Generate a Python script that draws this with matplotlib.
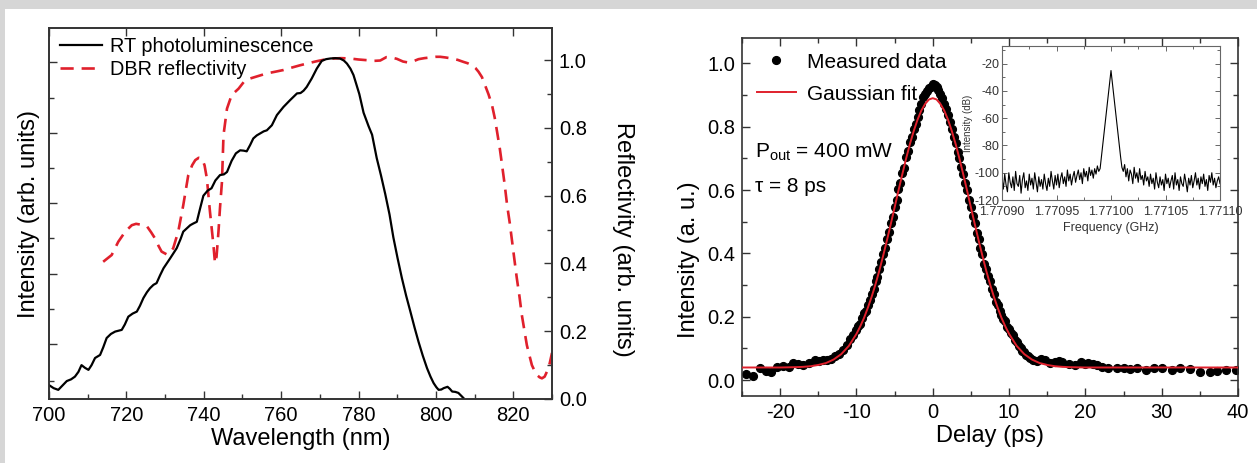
import matplotlib
matplotlib.use("Agg")
import matplotlib.pyplot as plt
import numpy as np
from matplotlib.patches import Rectangle
from matplotlib.ticker import MultipleLocator, FixedLocator, FixedFormatter

plt.rcParams['font.family'] = ['Liberation Sans', 'DejaVu Sans']
plt.rcParams['mathtext.fontset'] = 'custom'
plt.rcParams['mathtext.rm'] = 'Liberation Sans'
plt.rcParams['axes.unicode_minus'] = False

# ---- left panel: PL spectrum and DBR reflectivity (both normalised) ----
pl_wl = [700.0, 701.2, 702.4, 703.5, 704.6, 705.7, 706.7, 707.6, 708.4, 709.3,
         710.2, 711.0, 711.9, 713.2, 714.0, 714.9, 716.0, 717.1, 718.8, 719.6,
         720.5, 721.6, 722.7, 723.5, 724.4, 725.3, 726.1, 727.0, 727.8, 728.7,
         729.6, 731.3, 733.0, 734.0, 734.7, 736.5, 737.3, 738.2, 739.0, 739.9,
         741.0, 742.0, 743.0, 744.2, 745.2, 746.0, 747.2, 748.3, 749.4, 750.3,
         751.1, 752.0, 752.8, 753.7, 754.6, 755.5, 756.3, 757.6, 758.9, 760.6,
         762.3, 764.1, 765.0, 765.8, 766.6, 767.9, 769.2, 770.5, 771.6, 772.7,
         774.0, 775.2, 776.2, 777.0, 777.9, 778.7, 779.4, 780.2, 781.3, 782.6,
         783.5, 784.7, 785.8, 786.9, 788.0, 789.0, 790.1, 791.2, 792.3, 793.4,
         794.5, 795.5, 796.6, 797.7, 798.6, 799.4, 800.1, 800.7, 801.4, 802.0,
         803.0, 803.6, 804.2, 805.0, 805.8, 806.5, 807.1]
pl_int = [0.041, 0.032, 0.027, 0.040, 0.053, 0.058, 0.066, 0.080, 0.100, 0.092,
          0.086, 0.100, 0.121, 0.130, 0.152, 0.180, 0.192, 0.199, 0.204, 0.220,
          0.243, 0.252, 0.258, 0.275, 0.298, 0.315, 0.327, 0.337, 0.342, 0.365,
          0.386, 0.415, 0.445, 0.472, 0.494, 0.513, 0.518, 0.523, 0.560, 0.600,
          0.615, 0.622, 0.645, 0.661, 0.663, 0.670, 0.703, 0.725, 0.734, 0.733,
          0.731, 0.750, 0.769, 0.778, 0.784, 0.790, 0.793, 0.808, 0.838, 0.862,
          0.882, 0.902, 0.903, 0.910, 0.921, 0.946, 0.975, 0.998, 1.003, 1.005,
          1.006, 1.005, 0.999, 0.990, 0.975, 0.956, 0.930, 0.900, 0.845, 0.805,
          0.780, 0.711, 0.660, 0.605, 0.545, 0.477, 0.415, 0.357, 0.305, 0.258,
          0.210, 0.169, 0.128, 0.091, 0.066, 0.047, 0.035, 0.027, 0.028, 0.032,
          0.036, 0.030, 0.022, 0.021, 0.018, 0.010, 0.003]

dbr_wl = [714.0, 716.2, 717.9, 719.7, 721.4, 722.5, 723.5, 724.4, 725.3, 726.4,
          727.4, 728.3, 729.1, 730.4, 731.3, 732.1, 733.4, 734.7, 736.0, 737.0,
          737.8, 738.7, 739.5, 740.2, 740.8, 741.6, 742.5, 742.9, 743.3, 743.8,
          744.2, 744.7, 745.1, 746.0, 747.2, 749.0, 750.5, 752.0, 754.0, 756.3,
          758.5, 760.6, 762.7, 764.9, 767.0, 769.2, 771.3, 773.5, 775.6, 777.8,
          780.0, 782.2, 784.0, 785.6, 787.2, 788.5, 789.9, 791.5, 792.9, 794.2,
          795.5, 797.0, 798.5, 800.0, 801.1, 802.5, 804.1, 805.6, 807.1, 808.2,
          809.3, 810.2, 811.0, 811.9, 812.7, 813.6, 814.5, 815.2, 815.8, 816.5,
          817.1, 817.8, 818.4, 819.1, 819.7, 820.3, 820.9, 821.6, 822.2, 822.9,
          823.5, 824.2, 824.8, 825.5, 826.1, 826.8, 827.4, 828.1, 828.7, 829.4,
          830.0]
dbr_ref = [0.405, 0.425, 0.464, 0.494, 0.513, 0.517, 0.515, 0.513, 0.510, 0.492,
           0.474, 0.452, 0.435, 0.427, 0.432, 0.445, 0.494, 0.572, 0.661, 0.690,
           0.705, 0.712, 0.710, 0.690, 0.651, 0.553, 0.454, 0.401, 0.420, 0.494,
           0.565, 0.641, 0.779, 0.857, 0.897, 0.916, 0.938, 0.946, 0.953, 0.961,
           0.966, 0.971, 0.978, 0.985, 0.991, 0.997, 1.002, 1.005, 1.006, 1.005,
           1.002, 1.000, 0.998, 0.999, 1.009, 1.008, 1.004, 0.996, 0.993, 0.997,
           1.003, 1.006, 1.008, 1.010, 1.010, 1.008, 1.005, 1.001, 0.995, 0.991,
           0.985, 0.977, 0.966, 0.950, 0.926, 0.899, 0.867, 0.830, 0.789, 0.740,
           0.690, 0.630, 0.572, 0.518, 0.464, 0.410, 0.357, 0.302, 0.248, 0.200,
           0.159, 0.127, 0.100, 0.083, 0.071, 0.064, 0.061, 0.066, 0.081, 0.105,
           0.136]

# ---- right panel: autocorrelation trace ----
delay = [-24.5, -23.5, -22.7, -21.9, -21.2, -20.4, -19.6, -18.8, -18.3, -17.6,
         -17.0, -16.2, -15.4, -14.9, -14.4, -13.9, -13.4, -12.8, -12.3, -11.8,
         -11.3, -10.8, -10.4,
         -10.0, -9.75, -9.5, -9.25, -9.0, -8.75, -8.5, -8.25, -8.0, -7.75,
         -7.5, -7.25, -7.0, -6.75, -6.5, -6.25, -6.0, -5.75, -5.5, -5.25,
         -5.0, -4.75, -4.5, -4.25, -4.0, -3.75, -3.5, -3.25, -3.0, -2.75,
         -2.5, -2.25, -2.0, -1.75, -1.5, -1.25, -1.0, -0.75, -0.5, -0.25,
         0.0, 0.25, 0.5, 0.75, 1.0, 1.25, 1.5, 1.75, 2.0, 2.25,
         2.5, 2.75, 3.0, 3.25, 3.5, 3.75, 4.0, 4.25, 4.5, 4.75,
         5.0, 5.25, 5.5, 5.75, 6.0, 6.25, 6.5, 6.75, 7.0, 7.25,
         7.5, 7.75, 8.0, 8.25, 8.5, 8.75, 9.0, 9.25, 9.5, 9.75,
         10.0, 10.25, 10.5, 10.75, 11.0, 11.25, 11.5, 11.75, 12.0, 12.25, 12.5,
         12.8, 13.1, 13.6, 14.2, 14.7, 15.3, 16.0, 16.5, 17.0, 17.8,
         18.6, 19.4, 19.9, 20.4, 21.0, 21.5, 22.2, 23.0, 24.1, 25.1,
         25.9, 26.7, 28.0, 29.0, 30.0, 31.3, 32.4, 33.7, 35.0, 36.3,
         37.3, 38.4, 39.7]
measured = [0.021, 0.012, 0.037, 0.030, 0.026, 0.042, 0.045, 0.042, 0.053, 0.050,
            0.047, 0.055, 0.063, 0.060, 0.063, 0.065, 0.068, 0.075, 0.084, 0.095,
            0.112, 0.130, 0.142,
            0.158, 0.172, 0.178, 0.196, 0.212, 0.218, 0.238, 0.252, 0.272, 0.288,
            0.312, 0.326, 0.352, 0.372, 0.398, 0.418, 0.447, 0.468, 0.497, 0.516,
            0.548, 0.568, 0.603, 0.622, 0.654, 0.671, 0.703, 0.722, 0.752, 0.768,
            0.793, 0.808, 0.832, 0.852, 0.872, 0.893, 0.903, 0.912, 0.921, 0.926,
            0.935, 0.931, 0.924, 0.916, 0.904, 0.891, 0.873, 0.857, 0.836, 0.814,
            0.792, 0.768, 0.747, 0.719, 0.702, 0.673, 0.652, 0.622, 0.601, 0.568,
            0.547, 0.518, 0.497, 0.466, 0.447, 0.417, 0.398, 0.368, 0.352, 0.328,
            0.312, 0.288, 0.272, 0.248, 0.238, 0.218, 0.207, 0.192, 0.187, 0.168,
            0.162, 0.148, 0.141, 0.128, 0.122, 0.108, 0.103, 0.093, 0.090, 0.079, 0.076,
            0.070, 0.063, 0.060, 0.066, 0.063, 0.055, 0.058, 0.062, 0.058, 0.050,
            0.047, 0.058, 0.050, 0.053, 0.050, 0.047, 0.042, 0.037, 0.037, 0.037,
            0.035, 0.037, 0.032, 0.037, 0.037, 0.032, 0.037, 0.035, 0.026, 0.026,
            0.028, 0.032, 0.032]

fit_delay = [-25, -20, -18, -17, -16, -15, -14, -13, -12, -11,
             -10, -9.5, -9, -8.5, -8, -7.5, -7, -6.5, -6, -5.5,
             -5, -4.5, -4, -3.5, -3, -2.5, -2, -1.5, -1, -0.5,
             0, 0.5, 1, 1.5, 2, 2.5, 3, 3.5, 4, 4.5,
             5, 5.5, 6, 6.5, 7, 7.5, 8, 8.5, 9, 9.5,
             10, 11, 12, 13, 14, 15, 16, 17, 18, 20, 40]
fit_int = [0.040, 0.040, 0.041, 0.042, 0.044, 0.048, 0.054, 0.065, 0.082, 0.108,
           0.146, 0.170, 0.197, 0.229, 0.264, 0.303, 0.346, 0.393, 0.442, 0.493,
           0.545, 0.598, 0.649, 0.699, 0.745, 0.786, 0.822, 0.851, 0.872, 0.886,
           0.890, 0.886, 0.872, 0.851, 0.822, 0.786, 0.745, 0.699, 0.649, 0.598,
           0.545, 0.493, 0.442, 0.393, 0.346, 0.303, 0.264, 0.229, 0.197, 0.170,
           0.146, 0.108, 0.082, 0.065, 0.054, 0.048, 0.044, 0.042, 0.041, 0.040, 0.040]

# ---- inset: RF spectrum (dB), sampled evenly over the sweep ----
rf_left = [-104, -112, -101, -109, -114, -100, -107, -111, -103, -113,
           -99, -108, -110, -102, -115, -105, -100, -111, -106, -113,
           -101, -109, -104, -112, -100, -107, -114, -103, -110, -105,
           -112, -101, -108, -113, -104, -110, -99, -106, -112, -102,
           -109, -101, -111, -104, -100, -108, -103, -110, -98, -106,
           -101, -109, -103, -99, -107, -102, -98, -105, -100, -108,
           -97, -103, -99, -106, -96, -102, -98, -104, -97, -101,
           -95, -99]
rf_peak = [-97, -88, -79, -70, -61, -52, -43, -34, -25, -34,
           -43, -52, -61, -70, -79, -88, -96]
rf_right = [-99, -94, -103, -97, -106, -98, -101, -108, -96, -104,
            -100, -107, -97, -105, -102, -109, -99, -106, -103, -110,
            -101, -108, -104, -112, -100, -107, -111, -103, -109, -105,
            -113, -101, -108, -104, -111, -106, -102, -112, -100, -109,
            -105, -113, -103, -108, -110, -101, -107, -114, -104, -109,
            -102, -111, -106, -100, -109, -104, -112, -103, -108, -101,
            -110, -105, -113, -102, -107, -100, -109, -104, -111, -106,
            -103, -108]
rf_db = rf_left + rf_peak + rf_right
rf_freq = np.linspace(1.77090, 1.77110, len(rf_db))

red = '#e0202c'
spine_col = '#333333'

fig = plt.figure(figsize=(12.57, 4.63), dpi=100, facecolor='#d6d6d6')
fig.patches.append(Rectangle((5 / 1257, 0), 1, (463 - 9) / 463, transform=fig.transFigure,
                             facecolor='white', edgecolor='none', zorder=-5))


def style_axes(a, major_len=6, minor_len=3.5):
    for s in a.spines.values():
        s.set_linewidth(1.2)
        s.set_color(spine_col)
    a.tick_params(which='both', direction='in', width=1.0, color=spine_col)
    a.tick_params(which='major', length=major_len)
    a.tick_params(which='minor', length=minor_len)


# left panel
ax = fig.add_axes([49 / 1257, 64 / 463, 503 / 1257, 371 / 463])
ax.plot(pl_wl, pl_int, color='black', lw=1.6, label='RT photoluminescence', zorder=3)
ax.plot(dbr_wl, dbr_ref, color=red, lw=1.9, dashes=(5, 3), label='DBR reflectivity', zorder=2)
ax.set_xlim(700, 830)
ax.set_ylim(0, 1.095)
ax.xaxis.set_major_locator(MultipleLocator(20))
ax.xaxis.set_minor_locator(MultipleLocator(10))
ax.yaxis.set_major_locator(FixedLocator([0.162, 0.369, 0.578, 0.786, 0.995]))
ax.yaxis.set_minor_locator(FixedLocator([0.053, 0.265, 0.474, 0.683, 0.889]))
ax.set_yticklabels([])
style_axes(ax)
ax.tick_params(top=True, right=False, labelsize=14.5, pad=5)
ax.set_xlabel('Wavelength (nm)', fontsize=17, labelpad=2)
ax.set_ylabel('Intensity (arb. units)', fontsize=17)
ax.yaxis.set_label_coords(-0.018, 0.5)
leg = ax.legend(loc='upper left', bbox_to_anchor=(-0.005, 1.012), frameon=False, fontsize=14.3,
                handlelength=2.1, handletextpad=0.4, labelspacing=0.2, borderaxespad=0.3)

ax2 = ax.twinx()
ax2.set_ylim(0, 1.095)
ax2.yaxis.set_major_locator(MultipleLocator(0.2))
ax2.yaxis.set_minor_locator(MultipleLocator(0.1))
ax2.yaxis.set_major_formatter(plt.FormatStrFormatter('%.1f'))
style_axes(ax2)
ax2.tick_params(labelsize=14.5, pad=5)
ax2.set_ylabel('Reflectivity (arb. units)', fontsize=17, rotation=270)
ax2.yaxis.set_label_coords(1.163, 0.43)

# right panel
bx = fig.add_axes([742 / 1257, 67 / 463, 496 / 1257, 358 / 463])
bx.plot(delay, measured, 'o', color='black', ms=5.6, mec='black', label='Measured data', zorder=2)
bx.plot(fit_delay, fit_int, color=red, lw=1.4, label='Gaussian fit', zorder=3)
bx.set_xlim(-25, 40)
bx.set_ylim(-0.05, 1.08)
bx.xaxis.set_major_locator(MultipleLocator(10))
bx.xaxis.set_minor_locator(MultipleLocator(5))
bx.yaxis.set_major_locator(MultipleLocator(0.2))
bx.yaxis.set_minor_locator(MultipleLocator(0.1))
bx.yaxis.set_major_formatter(plt.FormatStrFormatter('%.1f'))
style_axes(bx)
bx.tick_params(which='both', top=True, right=True, labelsize=14.5, pad=5)
bx.set_xlabel('Delay (ps)', fontsize=17, labelpad=2)
bx.set_ylabel('Intensity (a. u.)', fontsize=17)
bx.yaxis.set_label_coords(-0.085, 0.38)
bx.legend(loc='upper left', bbox_to_anchor=(0.0, 1.0), frameon=False, fontsize=15,
          handlelength=1.9, handletextpad=0.5, labelspacing=0.62, borderaxespad=0.3)
bx.text(0.026, 0.68, 'P$_{\\mathrm{out}}$ = 400 mW', transform=bx.transAxes, fontsize=15,
        va='center', ha='left')
bx.text(0.026, 0.585, 'τ = 8 ps', transform=bx.transAxes, fontsize=15, va='center', ha='left')

# inset
ix = fig.add_axes([1002 / 1257, 263 / 463, 218 / 1257, 154 / 463])
ix.plot(rf_freq, rf_db, color='black', lw=0.8)
ix.set_xlim(1.77090, 1.77110)
ix.set_ylim(-120, -7)
ix.xaxis.set_major_locator(FixedLocator([1.77090, 1.77095, 1.77100, 1.77105, 1.77110]))
ix.xaxis.set_major_formatter(FixedFormatter(['1.77090', '1.77095', '1.77100', '1.77105', '1.77110']))
ix.xaxis.set_minor_locator(FixedLocator([1.770925, 1.770975, 1.771025, 1.771075]))
ix.yaxis.set_major_locator(MultipleLocator(20))
ix.yaxis.set_minor_locator(MultipleLocator(10))
for s in ix.spines.values():
    s.set_linewidth(0.8)
    s.set_color('#666666')
ix.tick_params(which='both', direction='in', top=True, right=True, color='#666666',
               width=0.7, labelsize=9, labelcolor='#333333')
ix.tick_params(axis='x', pad=4)
ix.tick_params(axis='y', pad=2)
ix.tick_params(which='major', length=3.5)
ix.tick_params(which='minor', length=2)
ix.set_xlabel('Frequency (GHz)', fontsize=9, labelpad=3, color='#333333')
ix.set_ylabel('Intensity (dB)', fontsize=7, labelpad=1, color='#333333')

fig.savefig('out.png', dpi=100, facecolor=fig.get_facecolor())
